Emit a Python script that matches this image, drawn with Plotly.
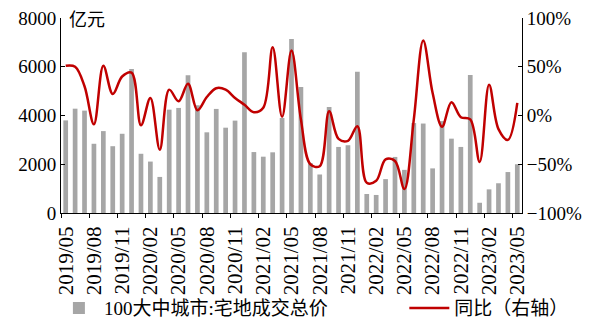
import plotly.graph_objects as go

months = [f"{y}/{m:02d}" for y in range(2019, 2024) for m in range(1, 13)]
months = months[months.index("2019/05"):months.index("2023/05") + 1]

land_value = [3800, 4280, 4200, 2840, 3360, 2740, 3250, 5910, 2430, 2110, 1480, 4240,
              4310, 5650, 4420, 3310, 4270, 3500, 3790, 6590, 2500, 2310, 2490, 3900,
              7140, 5170, 2050, 1580, 4350, 2710, 2780, 5800, 780, 740, 1390, 2300,
              1770, 3690, 3670, 1830, 3770, 3050, 2710, 5660, 420, 970, 1220, 1680, 2000]

yoy_pct = [51, 50, 30, -9, 51, 22, 40, 44, -10, 18, -35, 26.5,
           14.6, 32.6, 5.4, 19, 28, 26.5, 18, 11, 3.4, 8, 70, -1.4,
           66.6, -4, -50, -52, 4.4, -24, -26, -11, -69, -67, -45, -46.6,
           -75.5, -4, 77, 23, -11.5, 13.6, -1.7, -4, -47.6, 31.6, -14, -25, 13]

bar_name = "100大中城市:宅地成交总价"
line_name = "同比（右轴）"
unit_label = "亿元"

FONT = "Liberation Serif, Noto Sans CJK SC"

fig = go.Figure()
fig.add_trace(go.Bar(x=months, y=land_value, name=bar_name, legend="legend",
                     marker=dict(color="#A6A6A6", line=dict(width=0))))
fig.add_trace(go.Scatter(x=months, y=yoy_pct, name=line_name, yaxis="y2", legend="legend2",
                         mode="lines", line=dict(color="#C00000", width=2.5,
                                                 shape="spline", smoothing=1.0)))

leg_common = dict(orientation="h", xref="container", yref="container",
                  y=0.046, yanchor="middle", font=dict(size=19, family=FONT),
                  itemwidth=40, bgcolor="rgba(0,0,0,0)")

fig.update_layout(
    width=599, height=323,
    margin=dict(l=61, r=77, t=18, b=110, autoexpand=False),
    paper_bgcolor="white", plot_bgcolor="white",
    font=dict(family=FONT, size=19, color="black"),
    bargap=0.5,
    showlegend=True,
    legend=dict(x=0.09, xanchor="left", **leg_common),
    legend2=dict(x=0.675, xanchor="left", **leg_common),
    xaxis=dict(type="category", tickmode="linear", tick0=0, dtick=3,
               tickson="boundaries", ticks="outside", ticklen=4, tickcolor="black",
               tickangle=-90, showline=True, linecolor="black", linewidth=1,
               showgrid=False, tickfont=dict(size=21, family=FONT),
               ticklabelstandoff=4, range=[-0.5, len(months) - 0.5]),
    yaxis=dict(range=[0, 8000], dtick=2000, ticks="inside", ticklen=4, tickcolor="black",
               showline=True, linecolor="black", linewidth=1, showgrid=False,
               zeroline=False, tickfont=dict(size=19, family=FONT)),
    yaxis2=dict(range=[-100, 100], dtick=50, ticksuffix="%", overlaying="y", side="right",
                ticks="inside", ticklen=4, tickcolor="black", showline=True,
                linecolor="black", linewidth=1, showgrid=False, zeroline=False,
                tickfont=dict(size=19, family=FONT)),
    annotations=[dict(text=unit_label, xref="paper", yref="paper", x=0.012, y=1.0,
                      xanchor="left", yanchor="middle", showarrow=False,
                      font=dict(size=18, family="Noto Sans CJK SC"))],
)

fig.write_html("out.html")
